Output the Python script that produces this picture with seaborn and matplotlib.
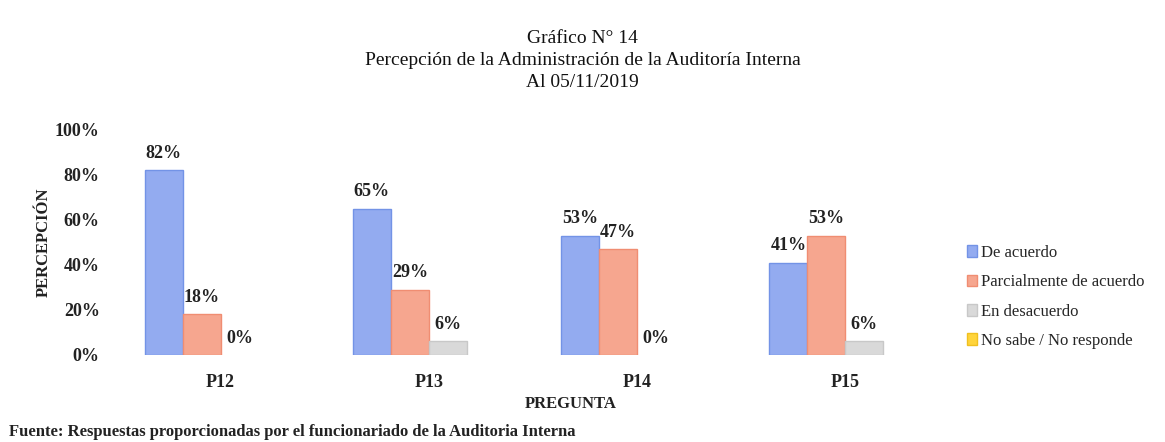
import pandas as pd
import numpy as np
import matplotlib
matplotlib.use('Agg')
import matplotlib.pyplot as plt
import seaborn as sns
from matplotlib.ticker import PercentFormatter

preguntas = ['P12', 'P13', 'P14', 'P15']
respuestas = ['De acuerdo', 'Parcialmente de acuerdo', 'En desacuerdo', 'No sabe / No responde']
de_acuerdo = [0.82, 0.65, 0.53, 0.41]
parcial = [0.18, 0.29, 0.47, 0.53]
desacuerdo = [0.00, 0.06, 0.00, 0.06]
no_sabe = [0.00, 0.00, 0.00, 0.00]

colores = ['#93abf0', '#f6a68f', '#d9d9d9', '#ffd43b']
bordes = ['#7393e6', '#f08d72', '#c8c8c8', '#f0c020']

df = pd.DataFrame({
    'pregunta': preguntas * 4,
    'respuesta': np.repeat(respuestas, 4),
    'valor': de_acuerdo + parcial + desacuerdo + no_sabe,
})

sns.set_style('white')
plt.rcParams['font.family'] = ['Liberation Serif', 'DejaVu Serif']

fig = plt.figure(figsize=(11.65, 4.42), dpi=100)
ax = fig.add_axes([0.100, 0.197, 0.715, 0.509])

sns.barplot(data=df, x='pregunta', y='valor', hue='respuesta', hue_order=respuestas,
            palette=colores, width=0.73, saturation=1, ax=ax, legend=False)

for cont, ec in zip(ax.containers, bordes):
    for bar in cont:
        bar.set_edgecolor(ec)
        # las barras de 0% no se ven
        bar.set_linewidth(1 if bar.get_height() > 0 else 0)

# etiquetas de datos (la serie "No sabe" no lleva etiqueta)
for cont in ax.containers[:3]:
    ax.bar_label(cont, labels=[f'{v * 100:.0f}%' for v in cont.datavalues],
                 padding=6, fontsize=13, fontweight='bold', color='#222222')

ax.set_ylim(0, 1)
ax.set_xlim(-0.5, 3.5)
ax.yaxis.set_major_formatter(PercentFormatter(1.0, decimals=0))
ax.set_yticks([0, 0.2, 0.4, 0.6, 0.8, 1.0])
ax.tick_params(axis='y', length=0, pad=12, labelsize=13)
ax.tick_params(axis='x', length=0, pad=14, labelsize=13)
for t in ax.get_xticklabels() + ax.get_yticklabels():
    t.set_fontweight('bold')
    t.set_color('#222222')
sns.despine(ax=ax, left=True, bottom=True)

ax.set_ylabel('PERCEPCIÓN', fontsize=12, fontweight='bold', color='#222222')
ax.yaxis.set_label_coords(-0.078, 0.50)
ax.set_xlabel('PREGUNTA', fontsize=12, fontweight='bold', color='#222222')
ax.xaxis.set_label_coords(0.545, -0.183)

fig.text(0.5, 0.914, 'Gráfico N° 14', ha='center', va='center', fontsize=14, color='#111111')
fig.text(0.5, 0.864, 'Percepción de la Administración de la Auditoría Interna',
         ha='center', va='center', fontsize=14, color='#111111')
fig.text(0.5, 0.814, 'Al 05/11/2019', ha='center', va='center', fontsize=14, color='#111111')

handles = [plt.Rectangle((0, 0), 1, 1, facecolor=c, edgecolor=e) for c, e in zip(colores, bordes)]
fig.legend(handles, respuestas, loc='upper left', bbox_to_anchor=(0.817, 0.48),
           frameon=False, fontsize=12, handlelength=0.6, handleheight=0.7,
           handletextpad=0.25, labelspacing=0.8)

fig.text(0.008, 0.004, 'Fuente: Respuestas proporcionadas por el funcionariado de la Auditoria Interna',
         ha='left', va='bottom', fontsize=12, fontweight='bold', color='#222222')

fig.savefig('out.png', dpi=100)
